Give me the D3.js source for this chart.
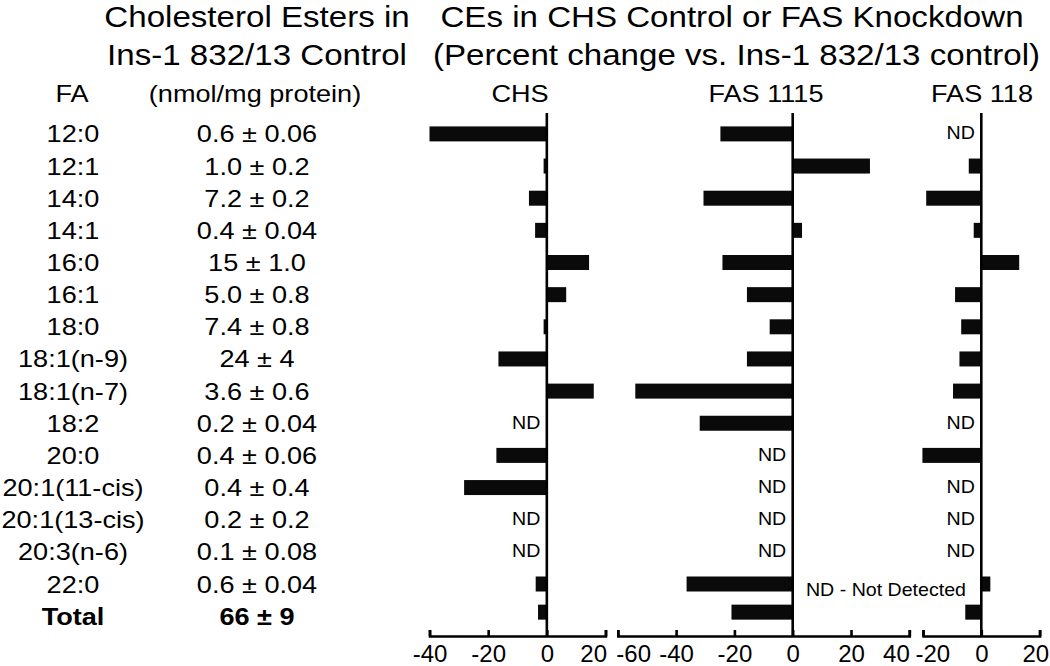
<!DOCTYPE html>
<html>
<head>
<meta charset="utf-8">
<script src="https://cdn.jsdelivr.net/npm/d3@7"></script>
<style>
  html, body { margin: 0; padding: 0; background: #fff; }
  svg { display: block; font-family: "Liberation Sans", Arial, Helvetica, sans-serif; }
</style>
</head>
<body>
<svg id="chart" width="1050" height="666"></svg>
<script>
// ---------- data ----------
const fattyAcids = ["12:0","12:1","14:0","14:1","16:0","16:1","18:0","18:1(n-9)","18:1(n-7)","18:2","20:0","20:1(11-cis)","20:1(13-cis)","20:3(n-6)","22:0","Total"];
const controlCE = ["0.6 ± 0.06","1.0 ± 0.2","7.2 ± 0.2","0.4 ± 0.04","15 ± 1.0","5.0 ± 0.8","7.4 ± 0.8","24 ± 4","3.6 ± 0.6","0.2 ± 0.04","0.4 ± 0.06","0.4 ± 0.4","0.2 ± 0.2","0.1 ± 0.08","0.6 ± 0.04","66 ± 9"];
// percent change vs. Ins-1 832/13 control (null = ND, not detected)
const chsChange     = [-40, -1.1, -6.1, -4.0, 14.4, 6.6, -1.1, -16.5, 16.0, null, -17.2, -28.2, null, null, -3.8, -3.0];
const fas1115Change = [-24.8, 26.5, -30.6, 3.2, -24.1, -15.7, -7.9, -15.7, -54.0, -31.9, null, null, null, null, -36.4, -21.0];
const fas118Change  = [null, -4.3, -18.9, -2.6, 13.0, -9.0, -6.9, -7.5, -9.7, null, -20.2, null, null, null, 3.1, -5.5];
const panelNames = ["CHS", "FAS 1115", "FAS 118"];
const chsTicks = [-40, -20, 0, 20];
const fas1115Ticks = [-60, -40, -20, 0, 20, 40];
const fas118Ticks = [-20, 0, 20];

// ---------- layout ----------
const svg = d3.select("#chart");
const SX = 1.13;              // horizontal stretch of the original typography
const rowY = d3.scalePoint().domain(fattyAcids).range([133.9, 133.9 + 15 * 32.15]);
const axisY = 636;
const zeroTop = 113;
const barH = 15;
const totalShift = -4;

function stext(str, x, y, size, anchor, weight, sx) {
  return svg.append("text")
    .attr("transform", `translate(${x},${y}) scale(${sx == null ? SX : sx},1)`)
    .attr("text-anchor", anchor || "middle")
    .style("font-size", size + "px")
    .style("font-weight", weight || "normal")
    .attr("fill", "#000")
    .text(str);
}

// headers
stext("Cholesterol Esters in", 257, 27, 29.3);
stext("Ins-1 832/13 Control", 257, 65, 29.3);
stext("FA", 72, 102, 24);
stext("(nmol/mg protein)", 255, 102, 24);
stext("CEs in CHS Control or FAS Knockdown", 732, 27, 29.3);
stext("(Percent change vs. Ins-1 832/13 control)", 736.5, 65, 29.3);

// table rows
fattyAcids.forEach((f, i) => {
  const w = f === "Total" ? "bold" : "normal";
  stext(f, 73, rowY(f) + 8.5, 24, "middle", w);
  stext(controlCE[i], 257, rowY(f) + 8.5, 24, "middle", w);
});

// panels (edge tick labels nudged inward as in the original to avoid collisions)
const panels = [
  { name: panelNames[0], values: chsChange, ticks: chsTicks,
    x: d3.scaleLinear().domain([-40, 20]).range([429.5, 605.5]), labelX: 520,
    edge: { "20": ["end", 1] } },
  { name: panelNames[1], values: fas1115Change, ticks: fas1115Ticks,
    x: d3.scaleLinear().domain([-60, 40]).range([617.8, 909.3]), labelX: 766,
    edge: { "-60": ["start", -2], "40": ["end", 0] } },
  { name: panelNames[2], values: fas118Change, ticks: fas118Ticks,
    x: d3.scaleLinear().domain([-20, 20]).range([923, 1039.6]), labelX: 982,
    edge: { "-20": ["start", -8], "20": ["end", 9] } }
];

panels.forEach(p => {
  stext(p.name, p.labelX, 102, 24);

  const rows = fattyAcids.map((f, i) => ({ f, v: p.values[i] }));

  // bars
  svg.append("g").selectAll("rect")
    .data(rows.filter(d => d.v != null))
    .join("rect")
    .attr("x", d => Math.min(p.x(0), p.x(d.v)))
    .attr("width", d => Math.abs(p.x(d.v) - p.x(0)))
    .attr("y", d => rowY(d.f) - barH / 2 + (d.f === "Total" ? totalShift : 0))
    .attr("height", barH)
    .attr("fill", "#0a0a0a");

  // ND labels
  rows.filter(d => d.v == null).forEach(d => {
    stext("ND", p.x(0) - 6.5, rowY(d.f) + 5.5, 18.5, "end", "normal", 1.06);
  });

  // zero line
  svg.append("line")
    .attr("x1", p.x(0)).attr("x2", p.x(0))
    .attr("y1", zeroTop).attr("y2", axisY)
    .attr("stroke", "#000").attr("stroke-width", 2.6);

  // axis
  const ax = svg.append("g")
    .attr("transform", `translate(0,${axisY})`)
    .call(d3.axisBottom(p.x).tickValues(p.ticks)
      .tickSizeInner(-6).tickSizeOuter(-6)
      .tickFormat(d => String(d)));
  ax.select(".domain").attr("stroke", "#000").attr("stroke-width", 2.6);
  ax.selectAll(".tick line").attr("stroke", "#000").attr("stroke-width", 2.6);
  ax.selectAll(".tick text")
    .attr("y", 26).attr("dy", null)
    .attr("fill", "#000")
    .style("font-size", "24px")
    .style("font-family", '"Liberation Sans", Arial, sans-serif')
    .each(function(d) {
      const e = p.edge[String(d)];
      if (e) d3.select(this).attr("text-anchor", e[0]).attr("x", e[1]);
    });
});

// note
stext("ND - Not Detected", panels[2].x(0) - 15.3, rowY("22:0") + 11.5, 18.5, "end", "normal", 1.06);
</script>
</body>
</html>
